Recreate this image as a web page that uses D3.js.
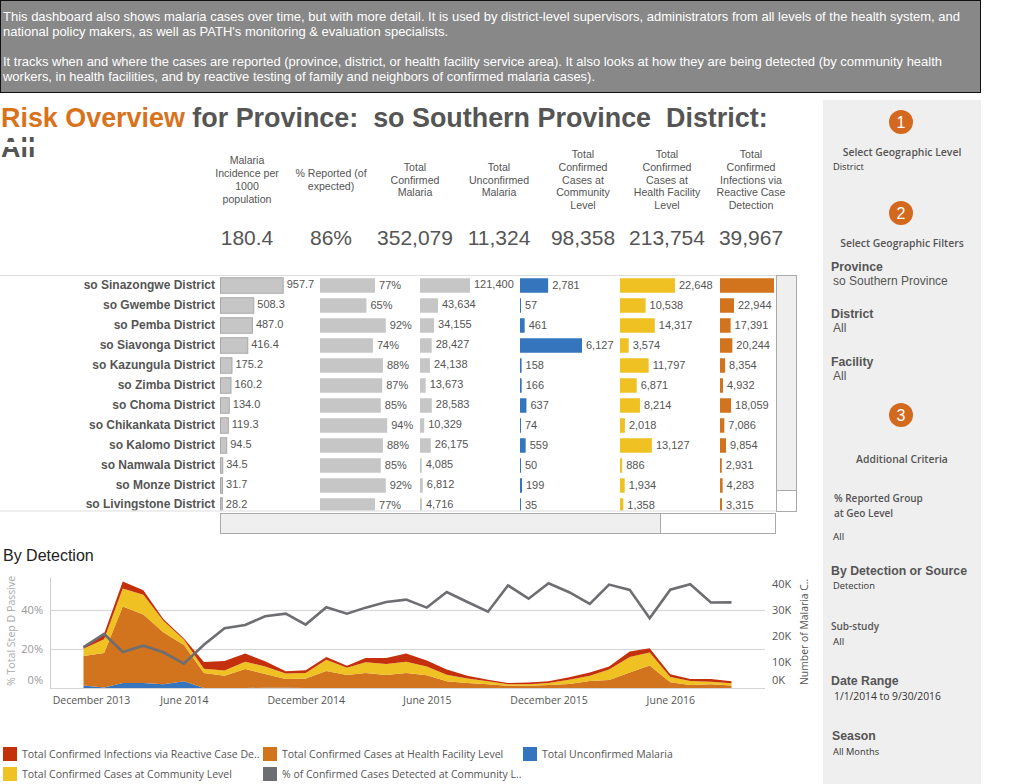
<!DOCTYPE html>
<html>
<head>
<meta charset="utf-8">
<script src="https://cdn.jsdelivr.net/npm/d3@7"></script>
<style>
  html, body { margin: 0; padding: 0; background: #fff; }
  svg { display: block; }
  text { font-family: "Liberation Sans", Arial, sans-serif; }
  .soft text, text.soft { font-family: "Open Sans", sans-serif; }
</style>
</head>
<body>
<div id="chart"></div>
<script>
// text
var introLines = [
  "This dashboard also shows malaria cases over time, but with more detail. It is used by district-level supervisors, administrators from all levels of the health system, and",
  "national policy makers, as well as PATH's monitoring & evaluation specialists.",
  "",
  "It tracks when and where the cases are reported (province, district, or health facility service area). It also looks at how they are being detected (by community health",
  "workers, in health facilities, and by reactive testing of family and neighbors of confirmed malaria cases)."
];
var introWidths = [957, 445, 0, 939, 592];
var kpiHeaders = [
  ["Malaria", "Incidence per", "1000", "population"],
  ["% Reported (of", "expected)"],
  ["Total", "Confirmed", "Malaria"],
  ["Total", "Unconfirmed", "Malaria"],
  ["Total", "Confirmed", "Cases at", "Community", "Level"],
  ["Total", "Confirmed", "Cases at", "Health Facility", "Level"],
  ["Total", "Confirmed", "Infections via", "Reactive Case", "Detection"]
];
var kpiValues = ["180.4", "86%", "352,079", "11,324", "98,358", "213,754", "39,967"];

// table
var districts = ["so Sinazongwe District", "so Gwembe District", "so Pemba District", "so Siavonga District",
  "so Kazungula District", "so Zimba District", "so Choma District", "so Chikankata District",
  "so Kalomo District", "so Namwala District", "so Monze District", "so Livingstone District"];
var incidence = [957.7, 508.3, 487.0, 416.4, 175.2, 160.2, 134.0, 119.3, 94.5, 34.5, 31.7, 28.2];
var reported = [0.77, 0.65, 0.92, 0.74, 0.88, 0.87, 0.85, 0.94, 0.88, 0.85, 0.92, 0.77];
var confirmed = [121400, 43634, 34155, 28427, 24138, 13673, 28583, 10329, 26175, 4085, 6812, 4716];
var unconfirmed = [2781, 57, 461, 6127, 158, 166, 637, 74, 559, 50, 199, 35];
var community = [22648, 10538, 14317, 3574, 11797, 6871, 8214, 2018, 13127, 886, 1934, 1358];
// first value is cut off in the picture, estimated from the bar
var reactive = [88500, 22944, 17391, 20244, 8354, 4932, 18059, 7086, 9854, 2931, 4283, 3315];

// time series, thousands of cases per month from Jan 2014
var unconfirmedByMonth = [1.0, 0.2, 1.9, 1.9, 1.4, 2.6, 0, 0, 0, 0.1, 0.1, 0, 0, 0, 0, 0, 0, 0, 0, 0, 0, 0, 0, 0, 0, 0, 0, 0, 0, 0, 0, 0, 0];
var facilityByMonth = [11.3, 13.3, 29.5, 26.4, 20.0, 13.9, 5.8, 4.7, 7.3, 5.3, 3.4, 3.7, 6.5, 5.0, 5.8, 5.0, 5.8, 4.9, 2.6, 1.9, 1.4, 0.9, 0.9, 1.2, 1.5, 2.7, 3.1, 6.0, 8.7, 2.2, 1.2, 1.4, 1.0];
var communityByMonth = [2.8, 5.3, 6.9, 7.6, 4.5, 2.1, 1.6, 2.0, 2.8, 2.9, 2.1, 2.1, 4.4, 2.8, 4.1, 4.2, 4.3, 3.4, 2.5, 1.8, 1.2, 0.5, 0.5, 0.7, 1.7, 2.0, 4.0, 5.9, 5.0, 2.0, 1.5, 1.0, 0.8];
var reactiveByMonth = [0.7, 2.1, 2.7, 1.7, 0.6, 0.4, 2.6, 3.7, 3.2, 2.0, 0.8, 1.0, 1.0, 0.8, 1.6, 2.3, 3.2, 2.3, 2.0, 1.0, 0.6, 0.5, 0.7, 0.7, 0.9, 1.3, 1.2, 2.1, 1.6, 1.1, 0.8, 1.1, 0.8];
var pctCommunity = [21.0, 27.7, 18.5, 21.7, 18.3, 12.5, 22.2, 30.6, 32.3, 36.8, 38.1, 32.5, 41.4, 38.1, 41.2, 44.1, 45.3, 41.2, 49.2, 44.1, 39.1, 52.6, 45.8, 53.7, 49.1, 43.1, 53.0, 50.3, 35.7, 50.4, 53.2, 43.8, 43.9];
var months = d3.timeMonth.range(new Date(2014, 0, 1), new Date(2016, 8, 2));
var xTickDates = [new Date(2013, 11, 1), new Date(2014, 5, 1), new Date(2014, 11, 1), new Date(2015, 5, 1), new Date(2015, 11, 1), new Date(2016, 5, 1)];
var pctTicks = [0, 20, 40];
var countTicks = [0, 10, 20, 30, 40];

var RED = "#c4300c", ORANGE = "#d2731e", YELLOW = "#efc122", BLUE = "#3575be", GREY = "#6d6e71", BAR = "#c6c6c6", INK = "#555";

var svg = d3.select("#chart").append("svg").attr("width", 1009).attr("height", 784);

// intro box
svg.append("rect").attr("x", 0.5).attr("y", 0.5).attr("width", 980).attr("height", 92)
  .attr("fill", "#888").attr("stroke", "#111");
svg.selectAll(".intro").data(introLines).enter().append("text")
  .attr("x", 3).attr("y", function(d, i) { return 21 + i * 15; })
  .attr("font-size", 13).attr("fill", "#fff")
  .attr("textLength", function(d, i) { return introWidths[i] || null; })
  .attr("lengthAdjust", "spacingAndGlyphs")
  .text(function(d) { return d; });

// title
var title = svg.append("text").attr("x", 1).attr("y", 126.5).attr("font-size", 26.9).attr("font-weight", "bold")
  .attr("fill", INK).attr("xml:space", "preserve").style("white-space", "pre");
title.append("tspan").attr("fill", "#d9721c").text("Risk Overview");
title.append("tspan").text(" for Province:  so Southern Province  District:");
svg.append("text").attr("x", 1).attr("y", 157).attr("font-size", 26.9).attr("font-weight", "bold").attr("fill", INK).text("All");
svg.append("rect").attr("x", 0).attr("y", 142).attr("width", 60).attr("height", 5).attr("fill", "#fff");

// kpi headers and totals
var kpiX = d3.scalePoint().domain(d3.range(kpiValues.length)).range([247, 751]);
var kpi = svg.selectAll(".kpi").data(kpiHeaders).enter().append("g").attr("class", "kpi")
  .attr("transform", function(d, i) { return "translate(" + kpiX(i) + ",0)"; });
kpi.selectAll("text").data(function(d) { return d.map(function(t, j) { return { t: t, j: j, n: d.length }; }); })
  .enter().append("text")
  .attr("text-anchor", "middle").attr("font-size", 10.6).attr("fill", INK)
  .attr("y", function(d) { return 183.5 + (d.j - d.n / 2 + 0.5) * 12.7; })
  .text(function(d) { return d.t; });
kpi.append("text").attr("text-anchor", "middle").attr("y", 245).attr("font-size", 21).attr("fill", INK)
  .text(function(d, i) { return kpiValues[i]; });

// district table
var rows = d3.scaleBand().domain(districts).range([275.5, 515.5]).paddingInner(0.275).paddingOuter(0.1375);
var colX = d3.scalePoint().domain(d3.range(6)).range([220, 720]);
var columns = [
  { values: incidence, max: 957.7, span: 62.7, fmt: d3.format(".1f"), fill: BAR, stroke: "#a8a8a8", lift: 1 },
  { values: reported, max: 1, span: 71.5, fmt: d3.format(".0%"), fill: BAR, lift: 0 },
  { values: confirmed, max: 121400, span: 50, fmt: d3.format(","), fill: BAR, lift: 1 },
  { values: unconfirmed, max: 6127, span: 62, fmt: d3.format(","), fill: BLUE, lift: 0 },
  { values: community, max: 22648, span: 55, fmt: d3.format(","), fill: YELLOW, lift: 0 },
  { values: reactive, max: 22944, span: 14, fmt: d3.format(","), fill: ORANGE, lift: 0 }
];

svg.append("clipPath").attr("id", "tableClip").append("rect")
  .attr("x", 0).attr("y", 276).attr("width", 775).attr("height", 234.5);
var table = svg.append("g").attr("clip-path", "url(#tableClip)");

var rowAxis = table.append("g").attr("transform", "translate(220,0)")
  .call(d3.axisLeft(rows).tickSize(0).tickPadding(5));
rowAxis.select(".domain").remove();
rowAxis.selectAll("text").attr("font-size", 12).attr("font-weight", "bold").attr("fill", INK)
  .style("font-family", '"Liberation Sans", Arial, sans-serif');
rowAxis.selectAll(".tick").filter(function(d, i) { return i === districts.length - 1; }).select("text").attr("dy", "0.2em");

columns.forEach(function(col, c) {
  var w = d3.scaleLinear().domain([0, col.max]).range([0, col.span]);
  var g = table.append("g").attr("transform", "translate(" + colX(c) + ",0)");
  g.selectAll("rect").data(col.values).enter().append("rect")
    .attr("x", col.stroke ? 0.5 : 0)
    .attr("y", function(d, i) { return rows(districts[i]) + (col.stroke ? -0.5 : 0); })
    .attr("width", function(d) { return Math.max(1, w(d)); })
    .attr("height", rows.bandwidth() + (col.stroke ? 1 : 0))
    .attr("fill", col.fill).attr("stroke", col.stroke || "none");
  g.selectAll("text").data(col.values).enter().append("text")
    .attr("x", function(d) { return Math.max(1, w(d)) + 4; })
    .attr("y", function(d, i) { return rows(districts[i]) + rows.bandwidth() / 2 + 3.5 - col.lift; })
    .attr("font-size", 11).attr("fill", INK).text(col.fmt);
});

svg.append("line").attr("x1", 0).attr("x2", 776).attr("y1", 275.5).attr("y2", 275.5).attr("stroke", "#ddd");
svg.append("line").attr("x1", 0).attr("x2", 776).attr("y1", 511).attr("y2", 511).attr("stroke", "#ddd");

// scrollbars
svg.append("rect").attr("x", 776.5).attr("y", 275.5).attr("width", 20).attr("height", 236).attr("fill", "#fff").attr("stroke", "#aaa");
svg.append("rect").attr("x", 776.5).attr("y", 275.5).attr("width", 20).attr("height", 215).attr("fill", "#efefef").attr("stroke", "#aaa");
svg.append("rect").attr("x", 220.5).attr("y", 513.5).attr("width", 555).attr("height", 20).attr("fill", "#fff").attr("stroke", "#aaa");
svg.append("rect").attr("x", 220.5).attr("y", 513.5).attr("width", 440).attr("height", 20).attr("fill", "#efefef").attr("stroke", "#aaa");

// by detection
svg.append("text").attr("x", 3).attr("y", 561).attr("font-size", 16).attr("fill", "#222").text("By Detection");

var x = d3.scaleTime().domain([months[0], months[months.length - 1]]).range([83.5, 731.5]);
var yCount = d3.scaleLinear().domain([0, 42.7]).range([688, 577]);
var yPct = d3.scaleLinear().domain([0, 56.9]).range([688, 577]);

var monthly = months.map(function(m, i) {
  return { month: m, blue: unconfirmedByMonth[i], orange: facilityByMonth[i], yellow: communityByMonth[i], red: reactiveByMonth[i], pct: pctCommunity[i] };
});
var layers = d3.stack().keys(["blue", "orange", "yellow", "red"])(monthly);
var layerFill = { blue: BLUE, orange: ORANGE, yellow: YELLOW, red: RED };

var leftAxis = svg.append("g").attr("class", "soft").attr("transform", "translate(50,0)")
  .call(d3.axisLeft(yPct).tickValues(pctTicks).tickSize(0).tickPadding(7).tickFormat(function(d) { return d + "%"; }));
leftAxis.select(".domain").attr("stroke", "#ccc");
leftAxis.selectAll("text").attr("font-size", 11).attr("fill", "#999");
leftAxis.selectAll(".tick").filter(function(d) { return d === 0; }).select("text").attr("dy", "-0.4em");

var grid = svg.append("g").attr("transform", "translate(50,0)")
  .call(d3.axisRight(yPct).tickValues(pctTicks).tickSize(715).tickFormat(""));
grid.select(".domain").remove();
grid.selectAll("line").attr("stroke", "#d4d4d4");

svg.selectAll(".layer").data(layers).enter().append("path").attr("class", "layer")
  .attr("fill", function(d) { return layerFill[d.key]; })
  .attr("d", d3.area()
    .x(function(d) { return x(d.data.month); })
    .y0(function(d) { return yCount(d[0]); })
    .y1(function(d) { return yCount(d[1]); }));

svg.append("path").datum(monthly).attr("fill", "none").attr("stroke", GREY).attr("stroke-width", 2.6)
  .attr("d", d3.line().x(function(d) { return x(d.month); }).y(function(d) { return yPct(d.pct); }));

var bottomAxis = svg.append("g").attr("class", "soft").attr("transform", "translate(0,688)")
  .call(d3.axisBottom(x).tickValues(xTickDates).tickSize(0).tickPadding(9).tickFormat(d3.timeFormat("%B %Y")));
bottomAxis.select(".domain").remove();
bottomAxis.selectAll("text").attr("font-size", 10.5).attr("fill", INK);
bottomAxis.selectAll(".tick").filter(function(d, i) { return i === 0; }).select("text").attr("dx", 28);

var rightAxis = svg.append("g").attr("class", "soft").attr("transform", "translate(772,0)")
  .call(d3.axisRight(yCount).tickValues(countTicks).tickSize(0).tickPadding(0).tickFormat(function(d) { return d + "K"; }));
rightAxis.select(".domain").remove();
rightAxis.selectAll("text").attr("font-size", 11).attr("fill", INK);
rightAxis.selectAll(".tick").filter(function(d) { return d === 0; }).select("text").attr("dy", "-0.4em");

svg.append("text").attr("class", "soft").attr("transform", "translate(15,686) rotate(-90)")
  .attr("font-size", 10.6).attr("fill", "#aaa").text("% Total Step D Passive");
svg.append("text").attr("class", "soft").attr("transform", "translate(808,685) rotate(-90)")
  .attr("font-size", 10.4).attr("fill", INK).text("Number of Malaria C..");

// legend
var legendItems = [
  { label: "Total Confirmed Infections via Reactive Case De..", color: RED, col: 0, row: 0 },
  { label: "Total Confirmed Cases at Health Facility Level", color: ORANGE, col: 1, row: 0 },
  { label: "Total Unconfirmed Malaria", color: BLUE, col: 2, row: 0 },
  { label: "Total Confirmed Cases at Community Level", color: YELLOW, col: 0, row: 1 },
  { label: "% of Confirmed Cases Detected at Community L..", color: GREY, col: 1, row: 1 }
];
var legendX = d3.scalePoint().domain([0, 1, 2]).range([3, 523]);
var legendY = d3.scalePoint().domain([0, 1]).range([747, 767]);
var legend = svg.selectAll(".legend").data(legendItems).enter().append("g").attr("class", "legend soft")
  .attr("transform", function(d) { return "translate(" + legendX(d.col) + "," + legendY(d.row) + ")"; });
legend.append("rect").attr("width", 14).attr("height", 14).attr("fill", function(d) { return d.color; });
legend.append("text").attr("x", 19).attr("y", 11).attr("font-size", 10.5).attr("fill", INK).text(function(d) { return d.label; });

// filter panel
svg.append("rect").attr("x", 823).attr("y", 100).attr("width", 158).attr("height", 684).attr("fill", "#efefef");
var steps = [{ n: "1", cy: 122 }, { n: "2", cy: 213 }, { n: "3", cy: 415 }];
var step = svg.selectAll(".step").data(steps).enter().append("g").attr("class", "step")
  .attr("transform", function(d) { return "translate(901," + d.cy + ")"; });
step.append("circle").attr("r", 12).attr("fill", "#d2691e");
step.append("text").attr("text-anchor", "middle").attr("y", 6).attr("font-size", 16).attr("fill", "#fff").text(function(d) { return d.n; });

var panelHeads = [
  { t: "Select Geographic Level", y: 152 },
  { t: "Select Geographic Filters", y: 243 },
  { t: "Additional Criteria", y: 459 }
];
svg.selectAll(".phead").data(panelHeads).enter().append("text").attr("class", "soft")
  .attr("x", 902).attr("y", function(d) { return d.y + 3.5; }).attr("text-anchor", "middle")
  .attr("font-size", 10.4).attr("font-weight", 600).attr("fill", INK).text(function(d) { return d.t; });

var panelLabels = [
  { t: "Province", x: 831, y: 267 }, { t: "District", x: 831, y: 313.5 }, { t: "Facility", x: 831, y: 361.5 },
  { t: "By Detection or Source", x: 831, y: 570.5 }, { t: "Date Range", x: 831, y: 680.5 }, { t: "Season", x: 832, y: 736 }
];
svg.selectAll(".plabel").data(panelLabels).enter().append("text")
  .attr("x", function(d) { return d.x; }).attr("y", function(d) { return d.y + 4; })
  .attr("font-size", 12.3).attr("font-weight", "bold").attr("fill", INK).text(function(d) { return d.t; });

var panelPlain = [
  { t: "so Southern Province", y: 281 }, { t: "All", y: 328 }, { t: "All", y: 376 }
];
svg.selectAll(".pplain").data(panelPlain).enter().append("text")
  .attr("x", 833).attr("y", function(d) { return d.y + 4; })
  .attr("font-size", 12).attr("fill", INK).text(function(d) { return d.t; });

var panelSmall = [
  { t: "District", x: 833, y: 166, s: 9.3 }, { t: "All", x: 833, y: 536, s: 9.8 }, { t: "Detection", x: 833, y: 585.5, s: 9.3 },
  { t: "All", x: 833, y: 641, s: 9.8 }, { t: "1/1/2014 to 9/30/2016", x: 834, y: 696, s: 10.3 }, { t: "All Months", x: 833, y: 751, s: 9.3 }
];
svg.selectAll(".psmall").data(panelSmall).enter().append("text").attr("class", "soft")
  .attr("x", function(d) { return d.x; }).attr("y", function(d) { return d.y + 3.5; })
  .attr("font-size", function(d) { return d.s; }).attr("fill", "#333").text(function(d) { return d.t; });

var panelMid = [
  { t: "% Reported Group", x: 834, y: 498 }, { t: "at Geo Level", x: 834, y: 513 }, { t: "Sub-study", x: 831, y: 626 }
];
svg.selectAll(".pmid").data(panelMid).enter().append("text").attr("class", "soft")
  .attr("x", function(d) { return d.x; }).attr("y", function(d) { return d.y + 3.5; })
  .attr("font-size", 10).attr("font-weight", 600).attr("fill", INK).text(function(d) { return d.t; });
</script>
</body>
</html>
